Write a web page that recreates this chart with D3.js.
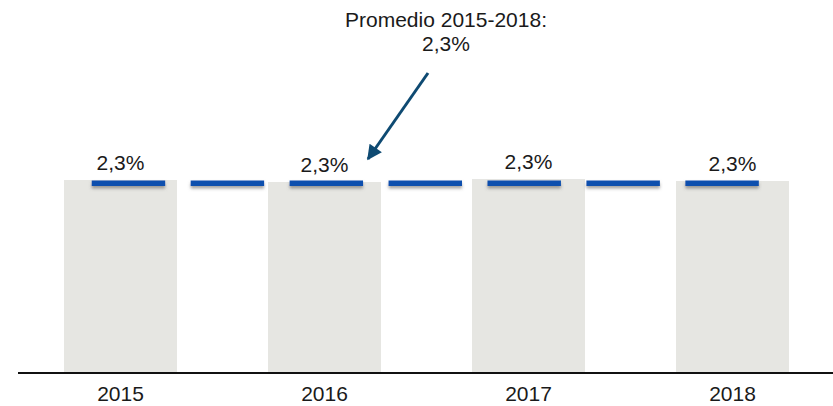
<!DOCTYPE html>
<html>
<head>
<meta charset="utf-8">
<script src="https://cdn.jsdelivr.net/npm/d3@7"></script>
<style>
  html, body { margin: 0; padding: 0; background: #ffffff; }
  svg { display: block; }
  text { font-family: "Liberation Sans", Arial, sans-serif; fill: #1a1a1a; }
</style>
</head>
<body>
<div id="chart"></div>
<script>
// ---- data ----
const years = ["2015", "2016", "2017", "2018"];
const values = [2.328, 2.304, 2.34, 2.316];    // % (bars)
const averageValue = 2.29;                       // promedio line (drawn level)
const averageLabel = ["Promedio 2015-2018:", "2,3%"];

// ---- layout ----
const W = 833, H = 406;
const svg = d3.select("#chart").append("svg").attr("width", W).attr("height", H);

const x = d3.scaleBand().domain(years).range([18.5, 834.5])
  .paddingInner(0.446).paddingOuter(0.223);
const y = d3.scaleLinear().domain([0, 4.5]).range([373, 0]);

const fmt = v => d3.format(".1f")(v).replace(".", ",") + "%";

// shadow filter for the average line
const defs = svg.append("defs");
const f = defs.append("filter").attr("id", "shadow")
  .attr("filterUnits", "userSpaceOnUse")
  .attr("x", 0).attr("y", 0).attr("width", W).attr("height", H);
f.append("feDropShadow").attr("dx", 0).attr("dy", 2.5).attr("stdDeviation", 1.5)
  .attr("flood-color", "#555").attr("flood-opacity", 0.55);

// arrow marker
defs.append("marker").attr("id", "arrow")
  .attr("viewBox", "0 0 10 10").attr("refX", 9).attr("refY", 5)
  .attr("markerWidth", 5.5).attr("markerHeight", 5)
  .attr("markerUnits", "strokeWidth")
  .attr("orient", "auto")
  .append("path").attr("d", "M0,0 L10,5 L0,10 Z").attr("fill", "#0e4a72");

// bars
svg.selectAll("rect.bar").data(years).join("rect")
  .attr("class", "bar")
  .attr("x", d => x(d))
  .attr("y", (d, i) => y(values[i]))
  .attr("width", x.bandwidth())
  .attr("height", (d, i) => y(0) - y(values[i]))
  .attr("fill", "#e6e6e2");

// average dashed line
const step = x.step();
const xStart = x(years[0]) + x.bandwidth() / 2 - step * 0.141;
const xEnd = x(years[years.length - 1]) + x.bandwidth() / 2 + step * 0.13;
svg.append("line")
  .attr("x1", xStart).attr("x2", xEnd)
  .attr("y1", y(averageValue)).attr("y2", y(averageValue))
  .attr("stroke", "#0a4fae").attr("stroke-width", 5.5)
  .attr("stroke-dasharray", (step * 0.36) + " " + (step * 0.125))
  .attr("filter", "url(#shadow)");

// value labels
svg.selectAll("text.val").data(years).join("text")
  .attr("class", "val")
  .attr("x", d => x(d) + x.bandwidth() / 2)
  .attr("y", (d, i) => y(values[i]) - 10)
  .attr("text-anchor", "middle")
  .attr("font-size", 21)
  .text((d, i) => fmt(values[i]));

// x axis
const axis = svg.append("g").attr("transform", `translate(0,${y(0)})`)
  .call(d3.axisBottom(x).tickSize(0).tickPadding(13));
axis.select(".domain").remove();
axis.selectAll("text").attr("font-size", 21).attr("fill", "#1a1a1a")
  .attr("font-family", "Liberation Sans, Arial, sans-serif");
svg.append("line").attr("x1", 18).attr("x2", 833)
  .attr("y1", y(0)).attr("y2", y(0))
  .attr("stroke", "#111").attr("stroke-width", 2);

// annotation
const ann = svg.append("text").attr("text-anchor", "middle").attr("font-size", 21);
ann.selectAll("tspan").data(averageLabel).join("tspan")
  .attr("x", 446).attr("y", (d, i) => 27 + i * 24).text(d => d);

svg.append("line")
  .attr("x1", 428).attr("y1", 73)
  .attr("x2", 368).attr("y2", 159)
  .attr("stroke", "#0e4a72").attr("stroke-width", 3)
  .attr("marker-end", "url(#arrow)");
</script>
</body>
</html>
